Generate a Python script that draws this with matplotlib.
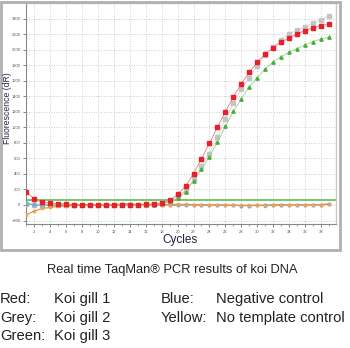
import matplotlib
matplotlib.use('Agg')
import matplotlib.pyplot as plt
from matplotlib.patches import Rectangle
from matplotlib.ticker import MultipleLocator

plt.rcParams['font.family'] = ['Liberation Sans', 'DejaVu Sans']

cycles = list(range(1, 40))

# Koi gill 1 (red)
red = [165, 75, 35, 25, 18, 10, 5, 3, 2, 0, 0, 0, 2, 3, 5, 8, 12, 30, 60, 135,
       240, 405, 595, 796, 1000, 1200, 1390, 1560, 1707, 1835, 1942, 2022,
       2095, 2152, 2203, 2245, 2280, 2310, 2325]
# Koi gill 2 (grey)
grey = [10, 5, 0, 0, -2, 0, 0, 2, 0, 0, -2, 0, 0, 2, 0, 3, 10, 25, 55, 105,
        185, 330, 500, 660, 870, 1106, 1312, 1493, 1635, 1794, 1935, 2035,
        2130, 2203, 2250, 2293, 2345, 2387, 2430]
# Koi gill 3 (green)
green = [25, 10, 5, 2, 0, 0, -2, 0, 0, 0, -2, 0, 0, 0, 2, 2, 5, 15, 40, 85,
         170, 310, 460, 623, 810, 1011, 1205, 1364, 1519, 1639, 1751, 1839,
         1910, 1966, 2013, 2061, 2103, 2135, 2161]
# Negative control (blue)
blue = [20, 0, -5, -3, 0, -2, 0, 2, 0, 0, -3, 2, 15, 18, 5, 10, 5, 0, -3, -5,
        -2, 0, -3, -5, -2, 0, -5, -8, -10, -3, 0, 3, 5, 3, 0, -2, 0, 3, 8]
# No template control (yellow)
yellow = [-125, -78, -45, -32, -18, -12, -8, -5, -3, -2, -2, -1, 0, 0, 2, 0,
          -2, 0, 5, 8, 8, 5, 5, 3, 2, 0, -2, -3, -2, -5, -8, -5, -3, 0, 2,
          3, 2, 5, 15]
threshold = 62

caption = 'Real time TaqMan\u00ae PCR results of koi DNA'
legend_rows = [('Red:', 'Koi gill 1', 'Blue:', 'Negative control'),
               ('Grey:', 'Koi gill 2', 'Yellow:', 'No template control'),
               ('Green:', 'Koi gill 3', '', '')]

fig = plt.figure(figsize=(3.5, 3.48), dpi=100)
W, H = 350, 348

# grey panel frame around the chart
fig.patches.append(Rectangle((1 / W, 1 - 250 / H), 339 / W, 248 / H,
                             transform=fig.transFigure, fill=False,
                             edgecolor='#b0b0b0', linewidth=2))

ax = fig.add_axes([26 / W, 1 - 224 / H, 310 / W, 221 / H])

ax.plot(cycles, grey, color='#d4d4d4', lw=0.6, marker='s', ms=2.4,
        mfc='#c4c4c4', mec='#c4c4c4', zorder=3)
ax.plot(cycles, green, color='#98d48a', lw=0.6, marker='^', ms=2.4,
        mfc='#4caf3c', mec='#4caf3c', zorder=3)
ax.plot(cycles, red, color='#f07a7a', lw=0.6, marker='s', ms=2.6,
        mfc='#e8202a', mec='#e8202a', zorder=4)
ax.plot(cycles, blue, color='#7aaede', lw=0.8, marker='o', ms=2,
        mfc='#7aaede', mec='#7aaede', zorder=3)
ax.plot(cycles, yellow, color='#ee8a2a', lw=0.8, marker='s', ms=2,
        mfc='#f0a050', mec='#f0a050', zorder=3)
ax.axhline(threshold, color='#6cc35e', lw=1.3, zorder=2)

ax.set_xlim(0.95, 39.9)
ax.set_ylim(-245, 2600)
ax.xaxis.set_minor_locator(MultipleLocator(1))
ax.set_xticks(range(2, 40, 2))
ax.set_yticks(range(-200, 2401, 200))
ax.tick_params(labelsize=3, colors='#555555', length=2, width=0.5, pad=2)
ax.tick_params(which='minor', length=1.5, width=0.5, color='#777777')
ax.grid(True, which='major', color='#bbbbbb', linestyle=(0, (1, 2)), lw=0.6)
for side in ['left', 'bottom']:
    ax.spines[side].set_color('#888888')
    ax.spines[side].set_linewidth(0.8)
for side in ['top', 'right']:
    ax.spines[side].set_color('#c8c8c8')
    ax.spines[side].set_linewidth(1)

fig.text(180 / W, 1 - 240 / H, 'Cycles', fontsize=8.5, ha='center',
         va='center', color='#222244')
fig.text(8 / W, 1 - 108 / H, 'Fluorescence (dR)', fontsize=6.2, rotation=90,
         ha='center', va='center', color='#222244')

fig.text(172 / W, 1 - 270 / H, caption, fontsize=9.3, ha='center',
         va='center', color='#222222')

row_y = [299, 318, 336]
for y, (c1, t1, c2, t2) in zip(row_y, legend_rows):
    fy = 1 - y / H
    fig.text(0 / W, fy, c1, fontsize=10.6, va='center', color='#222222')
    fig.text(54 / W, fy, t1, fontsize=10.6, va='center', color='#222222')
    fig.text(161 / W, fy, c2, fontsize=10.6, va='center', color='#222222')
    fig.text(216 / W, fy, t2, fontsize=10.6, va='center', color='#222222')

fig.savefig('out.png', dpi=100)
